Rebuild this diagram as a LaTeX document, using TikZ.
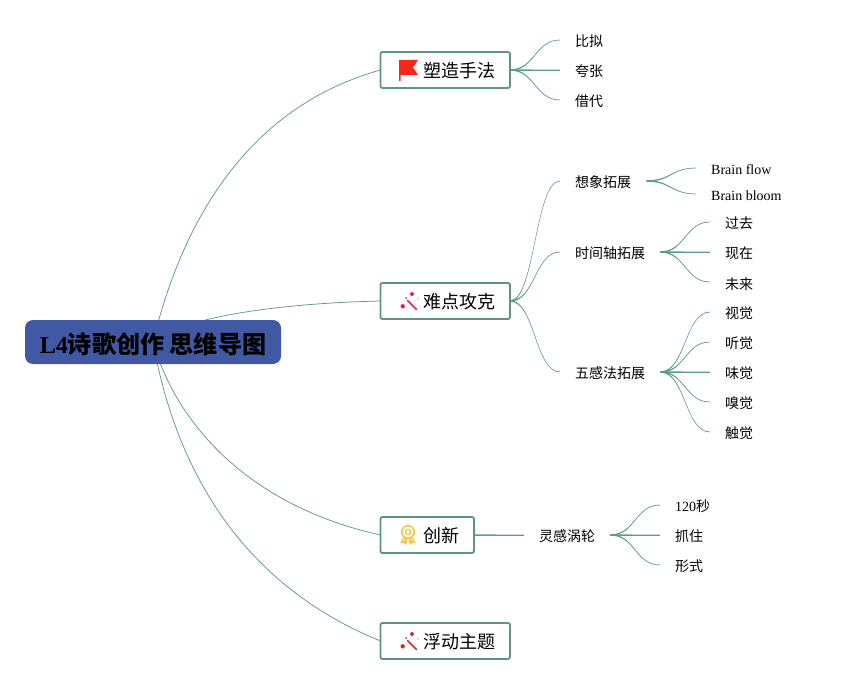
\documentclass[tikz,border=0pt]{standalone}
\usepackage{fontspec}
\usetikzlibrary{calc}
\setmainfont{Liberation Serif}
\newfontfamily\cjk{Noto Sans CJK SC}
\definecolor{linec}{HTML}{5F9A8A}
\definecolor{boxc}{HTML}{5E9386}
\definecolor{rootc}{HTML}{4159A4}
\definecolor{flagc}{HTML}{F5281A}
\definecolor{pinkc}{HTML}{E91E63}
\definecolor{goldc}{HTML}{FBC63C}
\definecolor{redc}{HTML}{D0302A}
\newcommand{\dn}[2]{\raisebox{-#1}[\height][\depth]{#2}}
\newcommand{\sublink}[2]{%
  \coordinate (m) at ($(#1.east)!0.5!(#2.west)$);
  \coordinate (ka) at (m |- #1.east);
  \coordinate (kb) at (m |- #2.west);
  \fill[linec] ([yshift=0.7pt]#1.east) .. controls ([yshift=0.6pt]ka) and ([yshift=0.25pt]kb) .. ([yshift=0.25pt]#2.west)
     -- ([yshift=-0.25pt]#2.west) .. controls ([yshift=-0.25pt]kb) and ([yshift=-0.6pt]ka) .. ([yshift=-0.7pt]#1.east) -- cycle;
  \draw[sub] (#1.east) .. controls (ka) and (kb) .. (#2.west);}
\tikzset{
  link/.style={draw=linec,line width=0.75pt},
  sub/.style={draw=linec,line width=0.3pt},
  leaf/.style={inner xsep=15pt,inner ysep=2pt,anchor=west,font=\fontsize{14}{16}\selectfont\cjk},
  leafen/.style={inner xsep=15pt,inner ysep=2pt,anchor=west,font=\fontsize{14}{16}\selectfont},
  topic/.style={draw=boxc,line width=1.8pt,rounded corners=2pt,fill=white,inner xsep=15pt,outer sep=0pt,minimum height=36pt,inner ysep=0pt,anchor=west,font=\fontsize{18}{20}\selectfont\cjk},
  rootbox/.style={fill=rootc,rounded corners=8pt,minimum width=256pt,minimum height=44pt,inner sep=0pt,text=black,font=\fontsize{24.1}{26}\selectfont\bfseries},
  pics/wand/.style={code={
    \draw[#1,line width=1.6pt,line cap=round] (-0.3,-1.3) -- (8.6,7.6);
    \fill[#1] (-5.3,4.3) circle (2.2pt);
    \fill[#1] (4,-8) circle (2pt);
    \fill[#1] (-2,-4) circle (1pt) (10,-3) circle (0.7pt);
  }},
  pics/medal/.style={code={
    \draw[#1,line width=1.6pt] (0,-3) circle (6.3pt);
    \draw[#1,line width=1.3pt] (0,-3) circle (2.6pt);
    \fill[#1,draw=#1,line width=0.8pt,line join=round] (-4.5,3) -- (-7,8) -- (-4,7.5) -- (-2.5,9.5) -- (-1,5) -- cycle;
    \fill[#1,draw=#1,line width=0.8pt,line join=round] (4.5,3) -- (7,8) -- (4,7.5) -- (2.5,9.5) -- (1,5) -- cycle;
    \fill[white] (-4,5.2) circle (0.9pt) (4,5.2) circle (0.9pt);
  }}
}
\begin{document}
\begin{tikzpicture}[x=1pt,y=-1pt]
\useasboundingbox (0,0) rectangle (842,684);
% nodes
\coordinate (c) at (153,342);
\node[topic] (t1) at (380.5,70) {\hspace{27.5pt}\dn{1pt}{塑造手法}\hspace{-0.5pt}};
\node[topic] (t2) at (380.5,301) {\hspace{27.5pt}\dn{1pt}{难点攻克}\hspace{-0.5pt}};
\node[topic] (t3) at (380.5,535) {\hspace{27.5pt}\dn{1pt}{创新}\hspace{-0.5pt}};
\node[topic] (t4) at (380.5,641) {\hspace{27.5pt}\dn{1pt}{浮动主题}\hspace{-0.5pt}};
\node[leaf] (a1) at (560,40) {\dn{1.3pt}{比拟}};
\node[leaf] (a2) at (560,70) {\dn{1.3pt}{夸张}};
\node[leaf] (a3) at (560,100) {\dn{1.3pt}{借代}};
\node[leaf] (b1) at (560,181) {\dn{1.6pt}{想象拓展}};
\node[leaf] (b2) at (560,252) {\dn{1.6pt}{时间轴拓展}};
\node[leaf] (b3) at (560,372) {\dn{1.6pt}{五感法拓展}};
\node[leafen] (b11) at (696,168) {\dn{1.8pt}{Brain flow}};
\node[leafen] (b12) at (696,194) {\dn{1.8pt}{Brain bloom}};
\node[leaf] (b21) at (710,222) {\dn{1.6pt}{过去}};
\node[leaf] (b22) at (710,252) {\dn{1.6pt}{现在}};
\node[leaf] (b23) at (710,282) {\dn{2pt}{未来}};
\node[leaf] (b31) at (710,312) {\dn{1.6pt}{视觉}};
\node[leaf] (b32) at (710,342) {\dn{1.6pt}{听觉}};
\node[leaf] (b33) at (710,372) {\dn{1.6pt}{味觉}};
\node[leaf] (b34) at (710,402) {\dn{1.6pt}{嗅觉}};
\node[leaf] (b35) at (710,432) {\dn{1.6pt}{触觉}};
\node[leaf] (d) at (524,535) {\dn{1.3pt}{灵感涡轮}};
\node[leafen] (d1) at (660,505) {\dn{1.3pt}{120{\cjk 秒}}};
\node[leaf] (d2) at (660,535) {\dn{1.3pt}{抓住}};
\node[leaf] (d3) at (660,565) {\dn{1.3pt}{形式}};
% connectors from the centre
\draw[link] (c) .. controls (185,210) and (255,105) .. (t1.west);
\draw[link] (c) .. controls (185,315) and (290,303) .. (t2.west);
\draw[link] (c) .. controls (175,420) and (245,505) .. (t3.west);
\draw[link] (c) .. controls (175,465) and (238,583) .. (t4.west);
% branches
\sublink{t1}{a1} \sublink{t1}{a2} \sublink{t1}{a3}
\sublink{t2}{b1} \sublink{t2}{b2} \sublink{t2}{b3}
\sublink{b1}{b11} \sublink{b1}{b12}
\sublink{b2}{b21} \sublink{b2}{b22} \sublink{b2}{b23}
\sublink{b3}{b31} \sublink{b3}{b32} \sublink{b3}{b33} \sublink{b3}{b34} \sublink{b3}{b35}
\sublink{t3}{d}
\sublink{d}{d1} \sublink{d}{d2} \sublink{d}{d3}
% root
\node[rootbox] (root) at (153,342) {\dn{2pt}{L4{\cjk 诗歌创作 思维导图}}};
% icons
\fill[flagc] (399,60) -- (418,60) -- (413,67.5) -- (418,75) -- (400.5,75) -- (400.5,81) -- (399,81) -- cycle;
\pic at (408,302) {wand=pinkc};
\pic at (408,535) {medal=goldc};
\pic at (408,642) {wand=redc};
\end{tikzpicture}
\end{document}
